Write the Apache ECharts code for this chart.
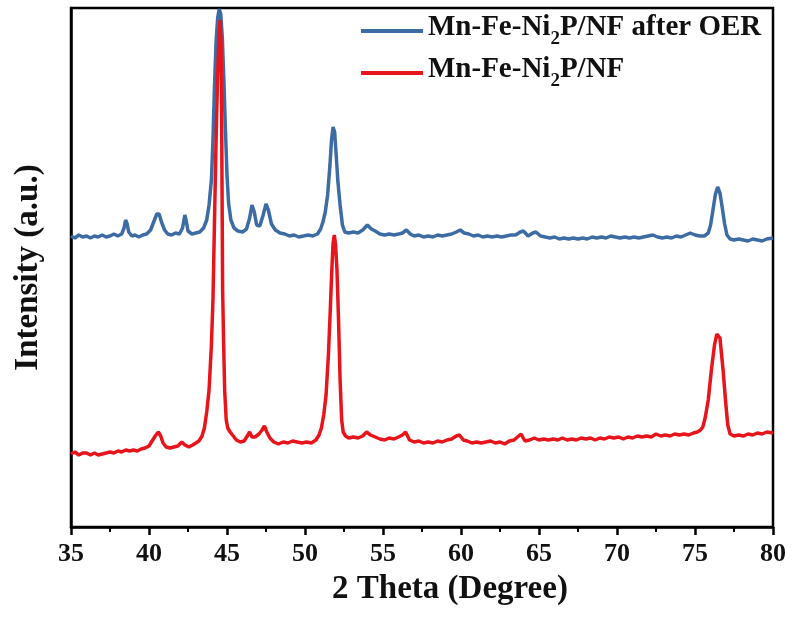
<!DOCTYPE html>
<html>
<head>
<meta charset="utf-8">
<script src="https://cdn.jsdelivr.net/npm/echarts@6/dist/echarts.min.js"></script>
<style>
  html, body { margin: 0; padding: 0; background: #fff; }
  #chart { width: 795px; height: 619px; }
</style>
</head>
<body>
<div id="chart"></div>
<script>
// XRD patterns, 2θ in degrees vs. intensity (arbitrary units)
const thetaTicks = [35, 40, 45, 50, 55, 60, 65, 70, 75, 80];

const afterOER = [
  [35.0,291],[35.25,289],[35.5,292],[35.75,290],[36.0,291],[36.25,289],[36.5,291],[36.75,290],
  [37.0,292],[37.25,290],[37.5,291],[37.75,293],[38.0,291],[38.25,293],[38.4,299],[38.5,307],
  [38.6,303],[38.7,295],[38.9,291],[39.1,292],[39.35,290],[39.6,292],[39.85,293],[40.1,297],
  [40.3,305],[40.5,313],[40.65,313],[40.8,305],[41.0,297],[41.2,293],[41.45,292],[41.7,294],
  [41.95,293],[42.15,299],[42.3,312],[42.4,305],[42.5,296],[42.75,293],[43.0,294],[43.25,295],
  [43.5,299],[43.7,307],[43.85,322],[44.0,347],[44.1,387],[44.2,442],[44.3,485],[44.4,509],
  [44.5,518],[44.6,513],[44.7,489],[44.8,447],[44.9,397],[45.0,352],[45.1,324],[45.25,307],
  [45.45,299],[45.7,296],[46.0,295],[46.25,298],[46.45,309],[46.6,322],[46.75,315],[46.9,302],
  [47.1,301],[47.3,311],[47.5,323],[47.65,317],[47.85,303],[48.1,297],[48.4,294],[48.7,293],
  [49.0,291],[49.3,292],[49.6,290],[49.9,291],[50.2,292],[50.5,291],[50.8,293],[51.0,298],
  [51.15,305],[51.3,315],[51.45,332],[51.6,362],[51.7,387],[51.8,400],[51.9,395],[52.0,372],
  [52.1,347],[52.25,322],[52.4,302],[52.55,295],[52.8,294],[53.1,295],[53.4,294],[53.7,297],
  [54.0,302],[54.25,298],[54.5,296],[54.8,293],[55.1,292],[55.4,293],[55.7,292],[56.0,293],
  [56.25,294],[56.5,297],[56.75,293],[57.0,291],[57.3,292],[57.6,290],[57.9,291],[58.2,290],
  [58.5,292],[58.8,291],[59.1,292],[59.4,293],[59.7,295],[59.95,297],[60.2,294],[60.5,293],
  [60.8,291],[61.1,292],[61.4,290],[61.7,291],[62.0,290],[62.3,291],[62.6,290],[62.9,291],
  [63.2,292],[63.5,292],[63.8,295],[64.0,296],[64.3,291],[64.6,294],[64.8,295],[65.1,291],
  [65.4,290],[65.7,289],[66.0,290],[66.3,288],[66.6,289],[66.9,288],[67.2,289],[67.5,288],
  [67.8,289],[68.1,288],[68.4,290],[68.7,289],[69.0,290],[69.3,289],[69.6,291],[69.9,290],
  [70.2,289],[70.5,290],[70.8,289],[71.1,290],[71.4,289],[71.7,290],[72.0,291],[72.3,292],
  [72.6,290],[72.9,289],[73.2,290],[73.5,289],[73.8,291],[74.1,290],[74.4,292],[74.7,294],
  [75.0,292],[75.3,291],[75.6,291],[75.85,294],[76.0,302],[76.15,317],[76.3,332],[76.45,340],
  [76.6,334],[76.75,319],[76.9,303],[77.05,292],[77.25,288],[77.5,287],[77.8,288],[78.1,287],
  [78.4,286],[78.7,288],[79.0,287],[79.3,286],[79.6,288],[80.0,289]
];

const asPrepared = [
  [35.0,73],[35.25,75],[35.5,72],[35.75,74],[36.0,74],[36.25,72],[36.5,74],[36.75,72],
  [37.0,73],[37.25,74],[37.5,75],[37.75,74],[38.0,76],[38.25,75],[38.5,77],[38.75,76],
  [39.0,77],[39.25,76],[39.5,78],[39.75,79],[40.0,81],[40.2,86],[40.4,91],[40.6,95],
  [40.75,91],[40.9,84],[41.1,80],[41.35,79],[41.6,80],[41.85,81],[42.1,85],[42.3,82],
  [42.55,80],[42.8,82],[43.0,84],[43.2,86],[43.4,91],[43.55,99],[43.7,115],[43.85,137],
  [44.0,182],[44.1,227],[44.2,307],[44.3,387],[44.4,452],[44.5,495],[44.56,507],[44.62,482],
  [44.65,427],[44.72,237],[44.78,187],[44.85,137],[44.95,107],[45.05,99],[45.2,95],[45.4,91],
  [45.6,87],[45.85,85],[46.1,86],[46.3,91],[46.45,95],[46.6,90],[46.8,90],[47.05,93],
  [47.25,97],[47.4,101],[47.55,95],[47.75,89],[48.0,85],[48.3,83],[48.6,85],[48.9,84],
  [49.2,86],[49.5,85],[49.8,84],[50.1,85],[50.4,84],[50.7,87],[50.9,92],[51.05,99],
  [51.2,112],[51.35,132],[51.5,172],[51.62,217],[51.72,257],[51.8,284],[51.88,292],[51.96,282],
  [52.05,257],[52.15,207],[52.25,147],[52.35,107],[52.45,95],[52.6,91],[52.8,89],[53.1,90],
  [53.4,89],[53.7,91],[53.95,95],[54.2,92],[54.5,90],[54.8,88],[55.1,87],[55.4,89],
  [55.7,88],[56.0,90],[56.25,92],[56.45,95],[56.7,87],[57.0,85],[57.3,86],[57.6,84],
  [57.9,85],[58.2,84],[58.5,86],[58.8,85],[59.1,87],[59.4,88],[59.7,91],[59.9,92],
  [60.15,87],[60.4,86],[60.7,84],[61.0,85],[61.3,84],[61.6,85],[61.9,86],[62.2,84],
  [62.5,85],[62.8,83],[63.1,86],[63.4,87],[63.7,91],[63.85,93],[64.1,86],[64.4,87],
  [64.7,89],[65.0,87],[65.3,88],[65.6,87],[65.9,88],[66.2,87],[66.5,89],[66.8,87],
  [67.1,88],[67.4,87],[67.7,89],[68.0,88],[68.3,89],[68.6,87],[68.9,89],[69.2,88],
  [69.5,90],[69.8,89],[70.1,90],[70.4,88],[70.7,90],[71.0,89],[71.3,91],[71.6,90],
  [71.9,91],[72.2,90],[72.5,93],[72.8,91],[73.1,92],[73.4,91],[73.7,93],[74.0,92],
  [74.3,93],[74.6,92],[74.9,94],[75.15,95],[75.35,97],[75.5,100],[75.65,109],[75.85,127],
  [76.05,157],[76.25,182],[76.4,193],[76.5,195],[76.6,189],[76.8,157],[76.97,124],[77.1,102],
  [77.25,93],[77.5,91],[77.8,92],[78.1,91],[78.4,93],[78.7,92],[79.0,94],[79.3,93],
  [79.6,95],[80.0,94]
];

const seriesNames = ['Mn-Fe-Ni2P/NF after OER', 'Mn-Fe-Ni2P/NF'];
const seriesColors = ['#3d6ca4', '#e8141b'];

const FONT = '"Liberation Serif", "Times New Roman", serif';

const chart = echarts.init(document.getElementById('chart'), null, { renderer: 'canvas' });

// Ni2P written with a real subscript 2
function legendLabel(name) {
  const i = name.indexOf('Ni2P');
  return '{t|' + name.slice(0, i + 2) + '}{s|2}{t|' + name.slice(i + 3) + '}';
}

chart.setOption({
  animation: false,
  backgroundColor: '#fff',
  grid: {
    left: 71, right: 22, top: 8, bottom: 92,
    show: true, borderColor: '#000', borderWidth: 2.5, backgroundColor: 'transparent'
  },
  legend: {
    orient: 'vertical',
    left: 361, top: 13, padding: 0,
    itemWidth: 62, itemHeight: 4, itemGap: 6,
    icon: 'rect',
    data: seriesNames,
    formatter: legendLabel,
    textStyle: {
      fontFamily: FONT, fontWeight: 'bold', color: '#111',
      rich: {
        t: { fontFamily: FONT, fontWeight: 'bold', fontSize: 29, color: '#111', verticalAlign: 'top', lineHeight: 34 },
        s: { fontFamily: FONT, fontWeight: 'bold', fontSize: 19, color: '#111', verticalAlign: 'top', padding: [17, 0, 0, 0] }
      }
    }
  },
  xAxis: {
    type: 'value',
    min: 35, max: 80, interval: 5,
    name: '2 Theta (Degree)',
    nameLocation: 'middle', nameGap: 46,
    nameTextStyle: { fontFamily: FONT, fontWeight: 'bold', fontSize: 33, color: '#111', padding: [0, 0, 0, 56] },
    axisLine: { show: true, onZero: false, lineStyle: { color: '#000', width: 2.5 } },
    axisTick: { show: true, inside: false, length: 8, lineStyle: { color: '#000', width: 2.5 } },
    minorTick: { show: true, splitNumber: 2, length: 5, lineStyle: { color: '#000', width: 2 } },
    axisLabel: {
      margin: 14, fontFamily: FONT, fontWeight: 'bold', fontSize: 26, color: '#111',
      formatter: v => (thetaTicks.includes(v) ? String(v) : '')
    },
    splitLine: { show: false }
  },
  yAxis: {
    type: 'value',
    min: 0, max: 519,
    name: 'Intensity (a.u.)',
    nameLocation: 'middle', nameGap: 26,
    nameTextStyle: { fontFamily: FONT, fontWeight: 'bold', fontSize: 33, color: '#111' },
    axisLine: { show: true, lineStyle: { color: '#000', width: 2.5 } },
    axisTick: { show: false },
    axisLabel: { show: false },
    splitLine: { show: false }
  },
  series: [
    {
      name: seriesNames[0], type: 'line', data: afterOER,
      symbol: 'none', smooth: false,
      lineStyle: { color: seriesColors[0], width: 3.5 },
      itemStyle: { color: seriesColors[0] }
    },
    {
      name: seriesNames[1], type: 'line', data: asPrepared,
      symbol: 'none', smooth: false,
      lineStyle: { color: seriesColors[1], width: 3.5 },
      itemStyle: { color: seriesColors[1] }
    }
  ]
});
</script>
</body>
</html>
